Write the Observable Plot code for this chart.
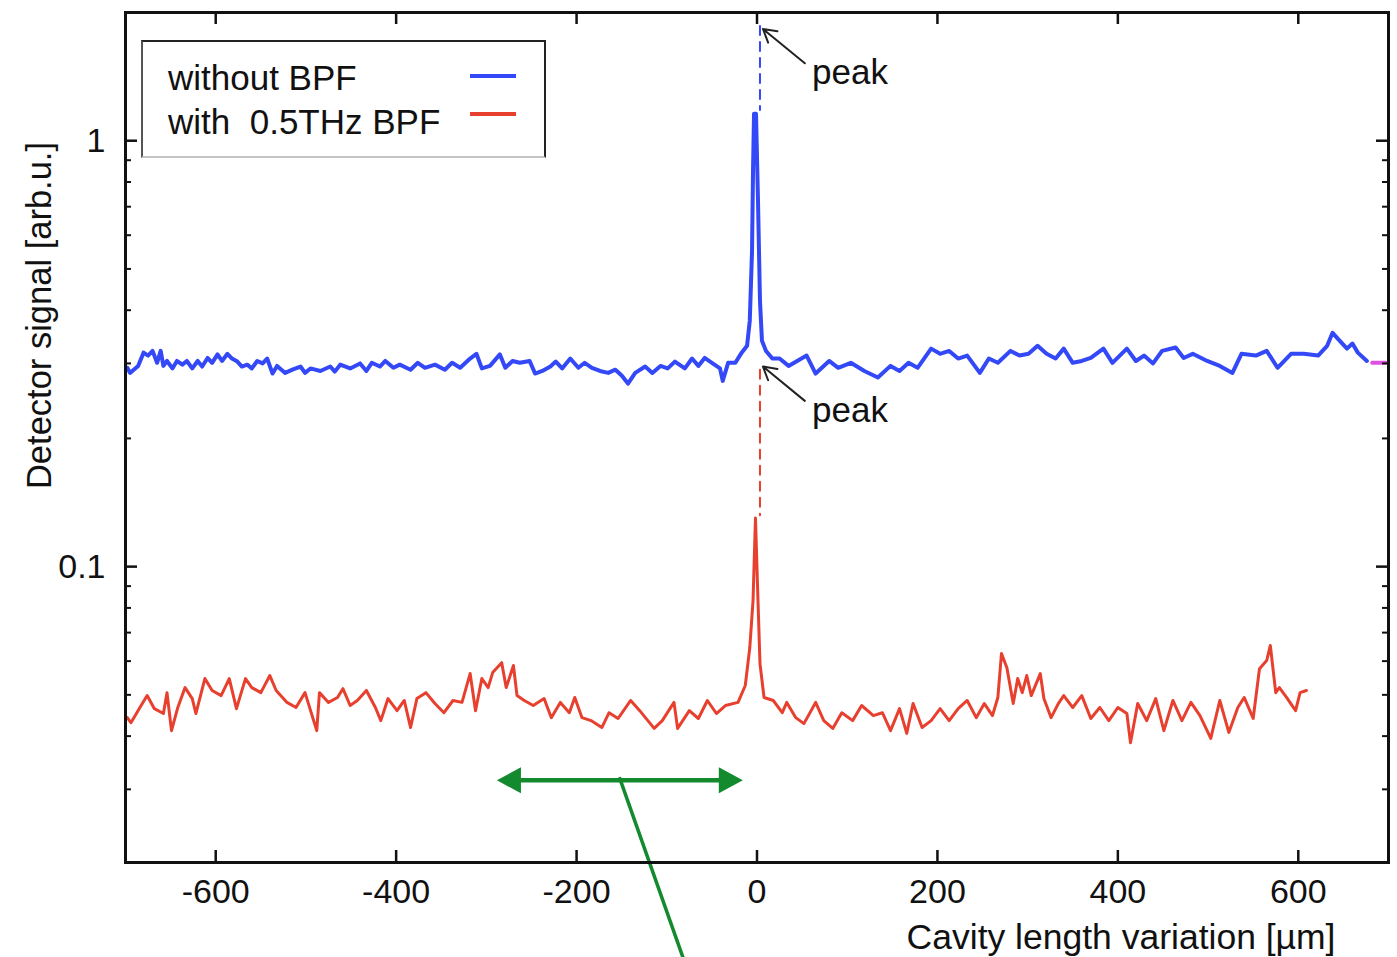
<!DOCTYPE html>
<html><head><meta charset="utf-8">
<script src="https://cdn.jsdelivr.net/npm/d3@7"></script>
<script src="https://cdn.jsdelivr.net/npm/@observablehq/plot@0.6"></script>
<style>
body{margin:0;background:#fff;}
#wrap{position:relative;width:1397px;height:957px;font-family:"Liberation Sans",Arial,sans-serif;color:#111;}
#legendbox{position:absolute;left:141px;top:40px;width:405px;height:118px;box-sizing:border-box;border:2px solid #222;border-left-color:#555;border-bottom-color:#c4c4c4;}
.lg{position:absolute;font-size:35px;line-height:35px;white-space:pre;color:#111;}
.sw{position:absolute;width:46px;height:4px;}
</style></head><body>
<div id="wrap"><div id="chart"></div></div>
<script>
// ---------- data ----------
const blueX = [-698,-695,-686,-680,-675,-670,-665,-661,-658,-654,
  -648,-643,-637,-632,-626,-620,-615,-609,-604,-598,
  -593,-587,-582,-576,-571,-565,-560,-554,-548,-543,
  -537,-532,-523,-515,-506,-501,-495,-484,-473,-468,
  -462,-451,-440,-433,-427,-418,-412,-403,-396,-384,
  -376,-368,-357,-346,-338,-329,-318,-311,-305,-296,
  -285,-279,-271,-263,-252,-246,-238,-229,-223,-216,
  -207,-198,-191,-183,-174,-165,-157,-150,-143,-135,
  -124,-116,-107,-99,-91,-80,-72,-65,-58,-50,
  -41,-38,-32,-24,-17,-11,-8,-5.5,-4.4,-3.3,
  -1.1,1.1,3.3,5.5,10,17,25,35,55,65,
  80,90,104,119,134,148,158,168,178,193,
  203,213,223,233,247,257,267,281,291,301,
  311,321,331,340,350,360,370,384,394,410,
  420,429,439,449,464,473,483,499,513,527,
  537,553,565,577,592,606,622,632,638,646,
  654,660,666,676];
const blueY = [0.293,0.285,0.296,0.318,0.313,0.321,0.301,0.321,0.296,0.304,
  0.292,0.304,0.298,0.304,0.292,0.304,0.295,0.309,0.301,0.315,
  0.304,0.316,0.308,0.303,0.295,0.298,0.292,0.304,0.300,0.308,
  0.284,0.296,0.285,0.290,0.295,0.285,0.292,0.288,0.295,0.287,
  0.298,0.292,0.300,0.288,0.301,0.295,0.304,0.293,0.298,0.290,
  0.301,0.293,0.298,0.290,0.301,0.293,0.308,0.316,0.292,0.296,
  0.315,0.293,0.304,0.301,0.304,0.284,0.288,0.295,0.303,0.292,
  0.308,0.293,0.301,0.293,0.288,0.285,0.290,0.281,0.269,0.285,
  0.295,0.285,0.296,0.292,0.303,0.292,0.308,0.296,0.309,0.301,
  0.292,0.273,0.301,0.301,0.318,0.330,0.378,0.552,0.850,1.157,
  1.157,0.723,0.421,0.339,0.321,0.308,0.308,0.296,0.313,0.284,
  0.304,0.293,0.301,0.288,0.278,0.296,0.288,0.301,0.293,0.325,
  0.316,0.321,0.308,0.313,0.285,0.308,0.301,0.321,0.313,0.316,
  0.330,0.316,0.308,0.325,0.301,0.304,0.309,0.325,0.301,0.325,
  0.304,0.313,0.300,0.321,0.327,0.309,0.316,0.304,0.296,0.285,
  0.316,0.313,0.321,0.293,0.316,0.316,0.313,0.330,0.354,0.339,
  0.325,0.334,0.318,0.304];

const redX = [-698,-694,-684,-676,-668,-658,-654,-649,-642,-634,
  -626,-622,-612,-604,-594,-585,-577,-567,-560,-550,
  -540,-533,-521,-511,-501,-488,-485,-475,-465,-459,
  -451,-443,-433,-423,-417,-409,-399,-391,-384,-377,
  -367,-357,-347,-337,-327,-318,-312,-305,-298,-293,
  -283,-278,-270,-266,-258,-248,-236,-228,-218,-208,
  -202,-194,-184,-172,-164,-154,-140,-130,-114,-105,
  -92,-88,-75,-65,-55,-45,-35,-21,-13,-8,
  -4.4,-1.7,1.1,3.3,7.8,18,28,33,43,52,
  65,74,84,94,106,116,129,139,148,158,
  166,173,183,193,203,213,223,233,243,252,
  261,267,271,277,284,289,294,299,304,314,
  318,326,334,340,350,360,370,380,390,400,
  410,414,422,432,442,451,461,471,481,491,
  503,513,523,533,540,550,557,565,569,575,
  579,587,597,602,609];
const redY = [0.0442,0.0430,0.0467,0.0498,0.0464,0.0452,0.0506,0.0412,0.0467,0.0520,
  0.0490,0.0452,0.0546,0.0512,0.0498,0.0546,0.0464,0.0546,0.0520,0.0506,
  0.0555,0.0512,0.0480,0.0467,0.0506,0.0412,0.0506,0.0480,0.0493,0.0517,
  0.0472,0.0485,0.0512,0.0467,0.0435,0.0490,0.0459,0.0485,0.0419,0.0490,
  0.0506,0.0477,0.0454,0.0485,0.0480,0.0561,0.0459,0.0546,0.0520,0.0564,
  0.0595,0.0520,0.0586,0.0498,0.0485,0.0472,0.0490,0.0442,0.0480,0.0454,
  0.0493,0.0442,0.0435,0.0419,0.0454,0.0440,0.0485,0.0459,0.0417,0.0435,
  0.0480,0.0417,0.0459,0.0440,0.0485,0.0452,0.0472,0.0480,0.0526,0.0645,
  0.0832,0.130,0.0832,0.0592,0.0493,0.0485,0.0454,0.0480,0.0442,0.0428,
  0.0480,0.0435,0.0417,0.0454,0.0435,0.0472,0.0447,0.0454,0.0412,0.0464,
  0.0406,0.0477,0.0419,0.0435,0.0464,0.0435,0.0464,0.0485,0.0442,0.0477,
  0.0447,0.0493,0.0625,0.0579,0.0477,0.0546,0.0506,0.0555,0.0498,0.0561,
  0.0490,0.0442,0.0477,0.0498,0.0467,0.0498,0.0440,0.0467,0.0435,0.0467,
  0.0452,0.0386,0.0477,0.0435,0.0490,0.0412,0.0485,0.0435,0.0480,0.0447,
  0.0395,0.0485,0.0408,0.0467,0.0493,0.0440,0.0576,0.0602,0.0653,0.0506,
  0.0520,0.0493,0.0459,0.0506,0.0512];

const seriesNames = ["without BPF", "with  0.5THz BPF"];
const xTicks = [-600, -400, -200, 0, 200, 400, 600];
const yMajor = [0.1, 1];
const yMinor = [0.03,0.04,0.05,0.06,0.07,0.08,0.09,0.2,0.3,0.4,0.5,0.6,0.7,0.8,0.9,2];
const xLabel = "Cavity length variation [\u00b5m]";
const yLabel = "Detector signal [arb.u.]";

// annotations (data units)
const peakX = [3.3, 3.3];
const bluePeakDashY = [1.86, 1.18];
const redPeakDashY = [0.29, 0.132];
const peakArrows = [
  {x1: 53, y1: 1.52, x2: 6.6, y2: 1.83},
  {x1: 53, y1: 0.245, x2: 6.6, y2: 0.295}
];
const peakLabels = [{x: 61, y: 1.44, t: "peak"}, {x: 61, y: 0.232, t: "peak"}];
const rangeArrowX = [-262, -42];
const rangeArrowY = [0.0315, 0.0315];
const rangeHeadLeft = {x: -275, y: 0.0315};
const rangeHeadRight = {x: -29, y: 0.0315};
const pointerX = [-152, -82];
const pointerY = [0.0318, 0.01208];
const edgeMarkX = [682, 697];
const edgeMarkY = [0.301, 0.301];

// ---------- build ----------
const BLUE = "#3348f7", RED = "#e8402f", GREEN = "#138a2e", INK = "#111";
const blue = blueX.map((x, i) => ({x, y: blueY[i]}));
const red = redX.map((x, i) => ({x, y: redY[i]}));
const pts = (xs, ys) => xs.map((x, i) => ({x, y: ys[i]}));

const headL = {draw(c){ c.moveTo(-12,0); c.lineTo(12,-13); c.lineTo(12,13); c.closePath(); }};
const headR = {draw(c){ c.moveTo(12,0); c.lineTo(-12,-13); c.lineTo(-12,13); c.closePath(); }};

const W = 1397, H = 957, ML = 125, MR = 9, MT = 12, MB = 95;
const FW = W - ML - MR, FH = H - MT - MB;
const font = '"Liberation Sans", Arial, sans-serif';

const chart = Plot.plot({
  width: W, height: H,
  marginLeft: ML, marginRight: MR, marginTop: MT, marginBottom: MB,
  style: {fontFamily: font, fontSize: "34px", color: INK, background: "white"},
  x: {domain: [-700, 700]},
  y: {type: "log", domain: [0.0202, 2]},
  marks: [
    Plot.line(red, {x: "x", y: "y", stroke: RED, strokeWidth: 3, strokeLinejoin: "round"}),
    Plot.line(blue, {x: "x", y: "y", stroke: BLUE, strokeWidth: 4, strokeLinejoin: "round"}),
    Plot.line(pts(edgeMarkX, edgeMarkY), {x: "x", y: "y", stroke: "#e050e0", strokeWidth: 4}),
    Plot.line(pts(peakX, bluePeakDashY), {x: "x", y: "y", stroke: BLUE, strokeWidth: 2, strokeDasharray: "9,7"}),
    Plot.line(pts(peakX, redPeakDashY), {x: "x", y: "y", stroke: RED, strokeWidth: 2, strokeDasharray: "9,7"}),
    Plot.arrow(peakArrows, {x1: "x1", y1: "y1", x2: "x2", y2: "y2", stroke: "#222", strokeWidth: 2, headLength: 11, bend: 0}),
    Plot.text(peakLabels, {x: "x", y: "y", text: "t", textAnchor: "start", fontSize: 35, fill: INK}),
    Plot.line(pts(rangeArrowX, rangeArrowY), {x: "x", y: "y", stroke: GREEN, strokeWidth: 4.5}),
    Plot.dot([rangeHeadLeft], {x: "x", y: "y", symbol: headL, fill: GREEN, stroke: "none", r: 10}),
    Plot.dot([rangeHeadRight], {x: "x", y: "y", symbol: headR, fill: GREEN, stroke: "none", r: 10}),
    Plot.line(pts(pointerX, pointerY), {x: "x", y: "y", stroke: GREEN, strokeWidth: 3.5}),
    // inward ticks (gnuplot style, mirrored)
    Plot.tickX(xTicks, {x: d => d, insetTop: FH - 12, stroke: INK, strokeWidth: 2.5}),
    Plot.tickX(xTicks, {x: d => d, insetBottom: FH - 12, stroke: INK, strokeWidth: 2.5}),
    Plot.tickY(yMajor, {y: d => d, insetRight: FW - 12, stroke: INK, strokeWidth: 2.5}),
    Plot.tickY(yMajor, {y: d => d, insetLeft: FW - 12, stroke: INK, strokeWidth: 2.5}),
    Plot.tickY(yMinor, {y: d => d, insetRight: FW - 6, stroke: INK, strokeWidth: 2}),
    Plot.tickY(yMinor, {y: d => d, insetLeft: FW - 6, stroke: INK, strokeWidth: 2}),
    Plot.axisX({ticks: xTicks, tickSize: 0, tickPadding: 16, tickFormat: d => String(d), label: null, fontSize: 34}),
    Plot.axisY({ticks: yMajor, tickSize: 0, tickPadding: 20, tickFormat: d => String(d), label: null, fontSize: 34}),
    Plot.text([xLabel], {frameAnchor: "bottom-right", dx: -53, dy: 75, textAnchor: "end", lineAnchor: "middle", fontSize: 35.5, fill: INK}),
    Plot.text([yLabel], {frameAnchor: "left", rotate: -90, dx: -86, dy: -122, textAnchor: "middle", lineAnchor: "middle", fontSize: 34.5, fill: INK}),
    Plot.frame({stroke: INK, strokeWidth: 3})
  ]
});
const wrap = document.getElementById("wrap");
document.getElementById("chart").appendChild(chart);

// legend (HTML overlay inside plot frame)
const box = document.createElement("div"); box.id = "legendbox"; wrap.appendChild(box);
const legendColors = [BLUE, RED];
const legendTop = [60, 104];
const swatchTop = [74, 112];
seriesNames.forEach((name, i) => {
  const t = document.createElement("div");
  t.className = "lg"; t.textContent = name;
  t.style.left = "168px"; t.style.top = legendTop[i] + "px";
  wrap.appendChild(t);
  const s = document.createElement("div");
  s.className = "sw"; s.style.background = legendColors[i];
  s.style.left = "470px"; s.style.top = swatchTop[i] + "px";
  wrap.appendChild(s);
});
</script>
</body></html>
